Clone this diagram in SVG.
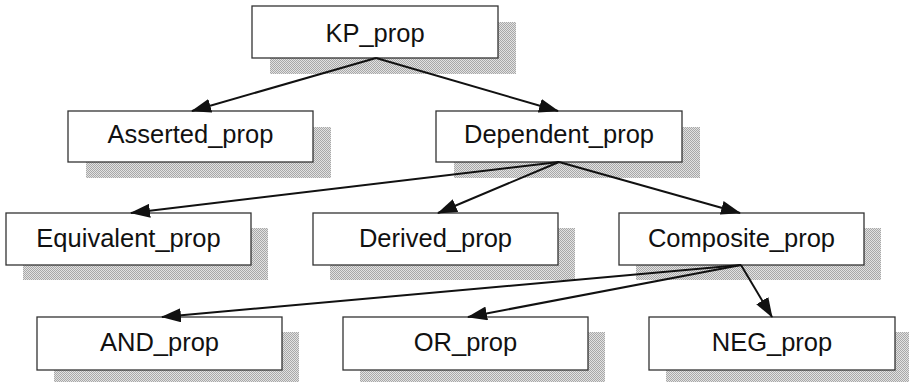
<svg xmlns="http://www.w3.org/2000/svg" width="909" height="382" viewBox="0 0 909 382">
<style>
.box{fill:#ffffff;stroke:#333333;stroke-width:1.3}
.sh{fill:url(#dots);stroke:none}
.lbl{font-family:"Liberation Sans",Arial,sans-serif;font-size:25.5px;fill:#111111;text-anchor:middle}
.edge{stroke:#111111;stroke-width:2;fill:none;marker-end:url(#arr)}
</style>
<defs>
<pattern id="dots" width="2" height="2" patternUnits="userSpaceOnUse">
<rect width="2" height="2" fill="#e2e2e2"/>
<rect x="0" y="0" width="1" height="1" fill="#a8a8a8"/>
<rect x="1" y="1" width="1" height="1" fill="#a8a8a8"/>
</pattern>
<marker id="arr" markerUnits="userSpaceOnUse" markerWidth="20" markerHeight="14" refX="19" refY="7" orient="auto">
<path d="M0,0 L20,7 L0,14 z" fill="#111111"/>
</marker>
</defs>
<rect width="909" height="382" fill="#ffffff"/>

<g id="KP_prop">
<rect class="sh" x="270" y="22" width="246" height="52"/>
<rect class="box" x="252" y="6" width="246" height="52"/>
<text class="lbl" x="375" y="42">KP_prop</text>
</g>
<g id="Asserted_prop">
<rect class="sh" x="86" y="127" width="245" height="51"/>
<rect class="box" x="68" y="111" width="245" height="51"/>
<text class="lbl" x="190.5" y="143">Asserted_prop</text>
</g>
<g id="Dependent_prop">
<rect class="sh" x="454" y="127" width="246" height="51"/>
<rect class="box" x="436" y="111" width="246" height="51"/>
<text class="lbl" x="559" y="143">Dependent_prop</text>
</g>
<g id="Equivalent_prop">
<rect class="sh" x="23" y="228" width="245" height="52"/>
<rect class="box" x="6" y="213" width="245" height="52"/>
<text class="lbl" x="128.5" y="246.5">Equivalent_prop</text>
</g>
<g id="Derived_prop">
<rect class="sh" x="330" y="228" width="245" height="52"/>
<rect class="box" x="313" y="213" width="245" height="52"/>
<text class="lbl" x="435.5" y="246.5">Derived_prop</text>
</g>
<g id="Composite_prop">
<rect class="sh" x="636" y="228" width="245" height="52"/>
<rect class="box" x="619" y="213" width="245" height="52"/>
<text class="lbl" x="741.5" y="246.5">Composite_prop</text>
</g>
<g id="AND_prop">
<rect class="sh" x="54" y="332" width="245" height="53"/>
<rect class="box" x="37" y="317" width="245" height="53"/>
<text class="lbl" x="159.5" y="351">AND_prop</text>
</g>
<g id="OR_prop">
<rect class="sh" x="360" y="332" width="245" height="53"/>
<rect class="box" x="343" y="317" width="245" height="53"/>
<text class="lbl" x="465.5" y="351">OR_prop</text>
</g>
<g id="NEG_prop">
<rect class="sh" x="666" y="332" width="246" height="53"/>
<rect class="box" x="649" y="317" width="246" height="53"/>
<text class="lbl" x="772" y="351">NEG_prop</text>
</g>

<g id="connectors">
<line class="edge" x1="376" y1="58" x2="192" y2="111"/>
<line class="edge" x1="376" y1="58" x2="558" y2="111"/>
<line class="edge" x1="559" y1="162" x2="131" y2="213"/>
<line class="edge" x1="559" y1="162" x2="438" y2="213"/>
<line class="edge" x1="559" y1="162" x2="740" y2="213"/>
<line class="edge" x1="741" y1="265" x2="162" y2="317"/>
<line class="edge" x1="741" y1="265" x2="468" y2="317"/>
<line class="edge" x1="741" y1="265" x2="772" y2="317"/>
</g>
</svg>
